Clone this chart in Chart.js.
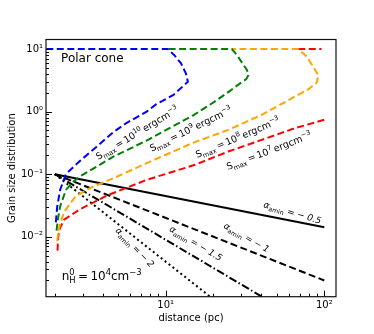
<!DOCTYPE html>
<html>
<head>
<meta charset="utf-8">
<script src="https://cdn.jsdelivr.net/npm/chart.js@4.4.0/dist/chart.umd.min.js"></script>
<style>
  html, body { margin: 0; padding: 0; background: #fff; }
</style>
</head>
<body>
<canvas id="grainChart" width="374" height="334"></canvas>
<script>
// curves, [distance (pc), grain size distribution]
const smax10 = [[2.03, 0.017], [2.07, 0.03], [2.16, 0.056], [2.35, 0.1], [2.6, 0.128], [2.9, 0.165],
  [3.64, 0.27], [4.68, 0.47], [5.62, 0.65], [7.59, 1.0], [8.69, 1.3], [11.2, 1.85], [13.8, 3.0],
  [13.4, 4.1], [12.5, 5.9], [11.3, 8.05], [10.3, 10], [1.5, 10]];
const smax9 = [[2.05, 0.0125], [2.1, 0.02], [2.16, 0.0305], [2.35, 0.056], [2.6, 0.075], [2.88, 0.092],
  [4.68, 0.19], [7.59, 0.345], [15, 0.88], [20, 1.4], [24.8, 2.05], [29, 2.75], [32.2, 3.3], [33.2, 3.8],
  [32.6, 4.6], [30.9, 5.6], [28.1, 8.05], [26.1, 10], [10.3, 10]];
const smax8 = [[2.07, 0.0085], [2.1, 0.0115], [2.15, 0.0155], [2.29, 0.025], [2.7, 0.044], [3.33, 0.06],
  [4.68, 0.086], [7.59, 0.15], [15, 0.32], [24.8, 0.51], [40.3, 0.886], [65.3, 1.74], [80, 2.3],
  [89.4, 2.9], [91.8, 3.8], [85, 5.2], [77.5, 7.6], [68.5, 10], [26.1, 10]];
const smax7 = [[2.08, 0.006], [2.1, 0.01], [2.15, 0.0135], [2.29, 0.0187], [2.85, 0.027], [4.3, 0.046],
  [7.59, 0.081], [15.3, 0.141], [24.8, 0.23], [40.3, 0.353], [65.3, 0.543], [100, 0.74]];
const smax7Top = [[68.5, 10], [96, 10]];

// power-law lines for alpha_amin
const alphaX = [2, 100];
const alphaHalf = [0.1, 0.01414];
const alphaOne = [0.1, 0.002];
const alphaOneHalf = [0.1, 0.000283];
const alphaTwo = [0.1, 0.00004];

const xMajor = [10, 100];
const xMinor = [2, 3, 4, 5, 6, 7, 8, 9, 20, 30, 40, 50, 60, 70, 80, 90];
const yMajor = [0.01, 0.1, 1, 10];
const yMinor = [0.002, 0.003, 0.004, 0.005, 0.006, 0.007, 0.008, 0.009,
  0.02, 0.03, 0.04, 0.05, 0.06, 0.07, 0.08, 0.09,
  0.2, 0.3, 0.4, 0.5, 0.6, 0.7, 0.8, 0.9, 2, 3, 4, 5, 6, 7, 8, 9];

const pts = (arr) => arr.map(p => ({ x: p[0], y: p[1] }));
const pair = (xs, ys) => xs.map((v, i) => ({ x: v, y: ys[i] }));

const supMap = { "-": "\u207B", "0": "\u2070", "1": "\u00B9", "2": "\u00B2", "3": "\u00B3" };
function powLabel(v) {
  const e = String(Math.round(Math.log10(v)));
  return "10" + e.split("").map(c => supMap[c]).join("");
}

function line(data, color, dash, width) {
  return {
    data: data,
    showLine: true,
    borderColor: color,
    backgroundColor: color,
    borderWidth: width || 2,
    borderDash: dash,
    pointRadius: 0,
    tension: 0,
    fill: false
  };
}

// text on the plot: [parts, x, y, angle]
const sLabel = (e) => [["S"], ["max", "sub"], ["\u2009=\u200910"], [e, "sup"], ["\u2009ergcm"], ["\u22123", "sup"]];
const aLabel = (n) => [["\u03B1", "it"], ["amin", "sub"], [" = \u2212 "], [n, "it"]];
const notes = [
  { parts: sLabel("10"), x: 6.6, y: 0.457, rot: -31, size: 9.5 },
  { parts: sLabel("9"), x: 14.4, y: 0.53, rot: -26, size: 9.5 },
  { parts: sLabel("8"), x: 28.4, y: 0.387, rot: -23, size: 9.5 },
  { parts: sLabel("7"), x: 44.8, y: 0.236, rot: -21, size: 9.5 },
  { parts: aLabel("0.5"), x: 63, y: 0.0245, rot: 16.5, size: 9 },
  { parts: aLabel("1"), x: 32.4, y: 0.0098, rot: 29.5, size: 9 },
  { parts: aLabel("1.5"), x: 15.5, y: 0.0079, rot: 31, size: 9 },
  { parts: aLabel("2"), x: 6.4, y: 0.0068, rot: 46, size: 9 }
];

function drawRich(ctx, parts, x, y, rot, size, align) {
  const fam = "'DejaVu Sans', sans-serif";
  const fontOf = (p) => {
    const s = (p[1] === "sub" || p[1] === "sup") ? size * 0.7 : size;
    return (p[1] === "it" ? "italic " : "") + s + "px " + fam;
  };
  let total = 0;
  parts.forEach(p => { ctx.font = fontOf(p); total += ctx.measureText(p[0]).width; });
  ctx.save();
  ctx.translate(x, y);
  ctx.rotate(rot * Math.PI / 180);
  ctx.fillStyle = "#000";
  ctx.textBaseline = "alphabetic";
  ctx.textAlign = "left";
  let cx = align === "left" ? 0 : -total / 2;
  const base = size * 0.35;
  parts.forEach(p => {
    ctx.font = fontOf(p);
    let dy = base;
    if (p[1] === "sub") dy += size * 0.25;
    if (p[1] === "sup") dy -= size * 0.42;
    ctx.fillText(p[0], cx, dy);
    cx += ctx.measureText(p[0]).width;
  });
  ctx.restore();
}

const decor = {
  id: "decor",
  afterDatasetsDraw(chart) {
    const { ctx, chartArea: a, scales: { x, y } } = chart;
    ctx.save();
    ctx.strokeStyle = "#000";
    ctx.lineWidth = 1;
    ctx.beginPath();
    xMajor.concat(xMinor).forEach(v => {
      const px = Math.round(x.getPixelForValue(v)) + 0.5;
      const len = xMajor.includes(v) ? 6 : 3;
      ctx.moveTo(px, a.bottom);
      ctx.lineTo(px, a.bottom - len);
    });
    yMajor.concat(yMinor).forEach(v => {
      const py = Math.round(y.getPixelForValue(v)) + 0.5;
      const len = yMajor.includes(v) ? 6 : 3;
      ctx.moveTo(a.left, py);
      ctx.lineTo(a.left + len, py);
    });
    ctx.stroke();
    ctx.lineWidth = 1.2;
    ctx.strokeStyle = "#111";
    ctx.strokeRect(a.left, a.top, a.right - a.left, a.bottom - a.top);
    ctx.restore();

    notes.forEach(n => {
      drawRich(ctx, n.parts, x.getPixelForValue(n.x), y.getPixelForValue(n.y), n.rot, n.size);
    });
    const w = a.right - a.left, h = a.bottom - a.top;
    ctx.save();
    ctx.font = "12px 'DejaVu Sans', sans-serif";
    ctx.fillStyle = "#000";
    ctx.textBaseline = "middle";
    ctx.fillText("Polar cone", a.left + 0.052 * w, a.top + 0.077 * h);
    ctx.restore();
    drawRich(ctx, [["n"], ["H", "sub"], ["\u2009=\u200910"], ["4", "sup"], ["cm"], ["\u22123", "sup"]],
      a.left + 0.054 * w, a.top + 0.92 * h, 0, 12, "left");
    // the 0 over the H
    ctx.save();
    ctx.font = "8.4px 'DejaVu Sans', sans-serif";
    ctx.fillStyle = "#000";
    ctx.fillText("0", a.left + 0.054 * w + 7.6, a.top + 0.92 * h - 1);
    ctx.restore();
  }
};

Chart.defaults.font.family = "'DejaVu Sans', sans-serif";
Chart.defaults.font.size = 10;
Chart.defaults.color = "#000";

new Chart(document.getElementById("grainChart"), {
  type: "scatter",
  data: {
    datasets: [
      line(pts(smax10), "#0000ff", [7, 3.5]),
      line(pts(smax9), "#008000", [7, 3.5]),
      line(pts(smax8), "#ffa500", [7, 3.5]),
      line(pts(smax7), "#ff0000", [7, 3.5]),
      line(pts(smax7Top), "#ff0000", [7, 3.5]),
      line(pair(alphaX, alphaHalf), "#000", []),
      line(pair(alphaX, alphaOne), "#000", [7, 3.5]),
      line(pair(alphaX, alphaOneHalf), "#000", [8, 2.5, 1.5, 2.5]),
      line(pair(alphaX, alphaTwo), "#000", [2, 3])
    ]
  },
  options: {
    responsive: false,
    animation: false,
    layout: { padding: { top: 39.5, right: 38, left: 0, bottom: 0 } },
    plugins: { legend: { display: false }, tooltip: { enabled: false } },
    scales: {
      x: {
        type: "logarithmic",
        min: 1.76,
        max: 118.5,
        grid: { display: false, drawTicks: false },
        border: { display: false },
        ticks: { padding: 3, autoSkip: false, maxRotation: 0, callback: (v) => powLabel(v) },
        afterBuildTicks: (s) => { s.ticks = xMajor.map(v => ({ value: v })); },
        afterFit: (s) => { s.height = 37.3; },
        title: { display: true, text: "distance (pc)", font: { size: 10 }, padding: { bottom: 10 } }
      },
      y: {
        type: "logarithmic",
        min: 0.0011,
        max: 14.2,
        grid: { display: false, drawTicks: false },
        border: { display: false },
        ticks: { padding: 3, autoSkip: false, callback: (v) => powLabel(v) },
        afterBuildTicks: (s) => { s.ticks = yMajor.map(v => ({ value: v })); },
        afterFit: (s) => { s.width = 46; },
        title: { display: true, text: "Grain size distribution", font: { size: 10 }, padding: { top: 6 } }
      }
    }
  },
  plugins: [decor]
});
</script>
</body>
</html>
